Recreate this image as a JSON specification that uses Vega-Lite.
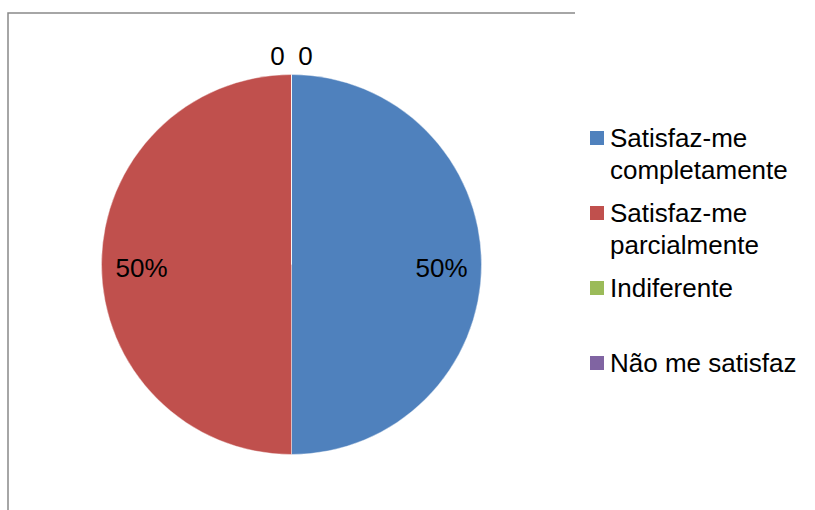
{
  "$schema": "https://vega.github.io/schema/vega-lite/v6.json",
  "width": 567,
  "height": 503,
  "autosize": {"type": "none"},
  "padding": {"left": 8, "top": 13, "right": 240, "bottom": 0},
  "background": "white",
  "view": {"stroke": "#898989", "strokeWidth": 1.5, "strokeDash": [567, 1070, 503]},
  "config": {
    "font": "Liberation Sans",
    "text": {"font": "Liberation Sans"},
    "style": {"guide-label": {"dy": 9, "lineHeight": 32}}
  },
  "data": {
    "values": [
      {"categoria": "Satisfaz-me completamente", "valor": 50, "rotulo": "50%"},
      {"categoria": "Satisfaz-me parcialmente", "valor": 50, "rotulo": "50%"},
      {"categoria": "Indiferente", "valor": 0, "rotulo": "0"},
      {"categoria": "Não me satisfaz", "valor": 0, "rotulo": "0"}
    ]
  },
  "encoding": {
    "theta": {"field": "valor", "type": "quantitative", "stack": true},
    "color": {
      "field": "categoria",
      "type": "nominal",
      "sort": ["Satisfaz-me completamente", "Satisfaz-me parcialmente", "Indiferente", "Não me satisfaz"],
      "scale": {
        "domain": ["Satisfaz-me completamente", "Satisfaz-me parcialmente", "Indiferente", "Não me satisfaz"],
        "range": ["#4F81BD", "#C0504D", "#9BBB59", "#8064A2"]
      },
      "legend": {
        "title": null,
        "orient": "none",
        "legendX": 576,
        "legendY": 112,
        "symbolType": "square",
        "symbolSize": 196,
        "symbolStrokeWidth": 0,
        "labelFont": "Liberation Sans",
        "labelFontSize": 26,
        "labelColor": "#000000",
        "labelOffset": 0,
        "labelLimit": 300,
        "labelBaseline": "alphabetic",
        "gridAlign": "all",
        "columns": 1,
        "rowPadding": 16,
        "labelExpr": "datum.label == 'Satisfaz-me completamente' ? ['Satisfaz-me', 'completamente'] : datum.label == 'Satisfaz-me parcialmente' ? ['Satisfaz-me', 'parcialmente'] : datum.label"
      }
    }
  },
  "layer": [
    {"mark": {"type": "arc", "outerRadius": 190, "stroke": "#ffffff", "strokeWidth": 0.4}},
    {
      "transform": [{"filter": "datum.valor > 0"}],
      "mark": {"type": "text", "radius": 150, "fontSize": 26, "font": "Liberation Sans", "color": "#000000", "baseline": "middle", "dy": 4},
      "encoding": {"text": {"field": "rotulo"}, "color": {"value": "#000000"}}
    },
    {
      "transform": [{"filter": "datum.categoria == 'Indiferente'"}],
      "mark": {"type": "text", "radius": 208, "fontSize": 26, "font": "Liberation Sans", "baseline": "middle", "dx": -14},
      "encoding": {"text": {"field": "rotulo"}, "color": {"value": "#000000"}}
    },
    {
      "transform": [{"filter": "datum.categoria == 'Não me satisfaz'"}],
      "mark": {"type": "text", "radius": 208, "fontSize": 26, "font": "Liberation Sans", "baseline": "middle", "dx": 14},
      "encoding": {"text": {"field": "rotulo"}, "color": {"value": "#000000"}}
    }
  ]
}
